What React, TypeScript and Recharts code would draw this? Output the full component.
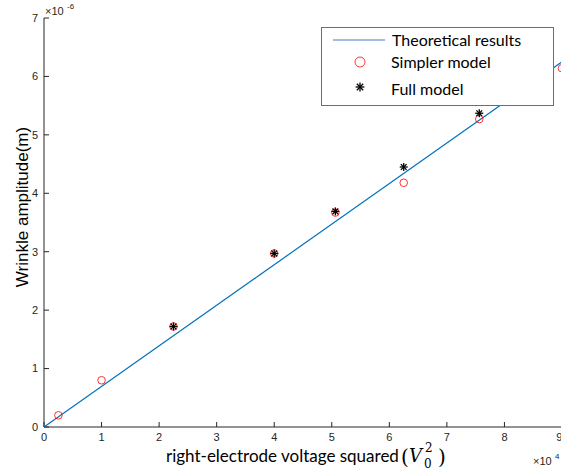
import { Scatter, ScatterChart, XAxis, YAxis } from "recharts";

// x: right-electrode voltage squared, in units of 1e4 V^2
// y: wrinkle amplitude, in units of 1e-6 m
const simplerX = [0.25, 1, 2.25, 4, 5.0625, 6.25, 7.5625, 9];
const simplerY = [0.2, 0.8, 1.72, 2.97, 3.67, 4.18, 5.27, 6.14];
const fullX = [2.25, 4, 5.0625, 6.25, 7.5625];
const fullY = [1.72, 2.97, 3.69, 4.45, 5.37];
const theoryX = [0, 9];
const theoryY = [0, 6.25];

const xTicks = [0, 1, 2, 3, 4, 5, 6, 7, 8, 9];
const yTicks = [0, 1, 2, 3, 4, 5, 6, 7];

const zip = (xs: number[], ys: number[]) => xs.map((x, i) => ({ x, y: ys[i] }));

const simplerData = zip(simplerX, simplerY);
const fullData = zip(fullX, fullY);
const theoryData = zip(theoryX, theoryY);

const AXIS = "#262626";
const LINE_BLUE = "#0072BD";
const tickStyle = { fill: AXIS, fontSize: 11, fontFamily: "Liberation Sans, Arial, sans-serif" };

function RedCircle(props: any) {
  const { cx, cy, r = 3.8 } = props;
  return <circle cx={cx} cy={cy} r={r} fill="none" stroke="#FF0000" strokeWidth={0.8} />;
}

function Asterisk(props: any) {
  const { cx, cy, s = 4 } = props;
  const d = s * 0.72;
  return (
    <g stroke="#000" strokeWidth={1.3}>
      <line x1={cx - s} y1={cy} x2={cx + s} y2={cy} />
      <line x1={cx} y1={cy - s} x2={cx} y2={cy + s} />
      <line x1={cx - d} y1={cy - d} x2={cx + d} y2={cy + d} />
      <line x1={cx - d} y1={cy + d} x2={cx + d} y2={cy - d} />
    </g>
  );
}

function NoDot() {
  return <g />;
}

function LegendBox() {
  const font = "Lato, 'Open Sans', sans-serif";
  return (
    <g>
      <rect x={321.5} y={27.5} width={232} height={78} fill="#fff" stroke="#4472C4" strokeWidth={1} />
      <line x1={333} y1={40} x2={385} y2={40} stroke="#4A7CC4" strokeWidth={1.2} />
      <text x={392} y={46} fontSize={16} fontFamily={font} fill="#000">Theoretical results</text>
      <RedCircle cx={360} cy={62} r={5} />
      <text x={391} y={68} fontSize={16} fontFamily={font} fill="#000">Simpler model</text>
      <Asterisk cx={360} cy={87} s={4.4} />
      <text x={391} y={95} fontSize={16} fontFamily={font} fill="#000">Full model</text>
    </g>
  );
}

function Annotations() {
  const sans = "Liberation Sans, Arial, sans-serif";
  const serif = "'DejaVu Serif', 'Liberation Serif', serif";
  return (
    <svg width={561} height={473} style={{ position: "absolute", left: 0, top: 0, pointerEvents: "none" }}>
      {/* exponent multipliers */}
      <text x={45} y={15} fontSize={11} fontFamily={sans} fill={AXIS}>
        ×10
      </text>
      <text x={67} y={9} fontSize={8} fontFamily={sans} fill={AXIS}>
        -6
      </text>
      <text x={533} y={465} fontSize={11} fontFamily={sans} fill={AXIS}>
        ×10
      </text>
      <text x={555} y={459} fontSize={8} fontFamily={sans} fill={AXIS}>
        4
      </text>

      {/* y axis title */}
      <text
        x={28}
        y={207}
        transform="rotate(-90 28 207)"
        textAnchor="middle"
        fontSize={17}
        fontFamily={sans}
        fill="#000"
      >
        {"Wrinkle amplitude(m)"}
      </text>

      {/* x axis title with V_0^2 */}
      <text x={166} y={462} fontSize={17} fontFamily="Lato, sans-serif" fill="#000">
        right-electrode voltage squared
      </text>
      <text x={401} y={464} fontSize={20} fontFamily={serif} fill="#000">(</text>
      <text x={409} y={462} fontSize={18} fontFamily={serif} fontStyle="italic" fill="#000">V</text>
      <text x={424} y={468} fontSize={12} fontFamily={serif} fill="#000">0</text>
      <text x={425} y={452} fontSize={12} fontFamily={serif} fill="#000">2</text>
      <text x={438} y={464} fontSize={20} fontFamily={serif} fill="#000">)</text>

      <LegendBox />
    </svg>
  );
}

export default function App() {
  return (
    <div style={{ position: "absolute", left: 0, top: 0, width: 561, height: 473, overflow: "hidden", background: "#fff" }}>
      <ScatterChart width={562} height={473} margin={{ top: 18, right: 0, bottom: 0, left: 0 }}>
        <XAxis
          xAxisId="bottom"
          dataKey="x"
          type="number"
          domain={[0, 9]}
          ticks={xTicks}
          height={46}
          stroke={AXIS}
          tick={tickStyle}
          tickSize={-5}
          tickMargin={11}
          allowDataOverflow
        />
        <XAxis
          xAxisId="top"
          orientation="top"
          type="number"
          domain={[0, 9]}
          ticks={xTicks}
          height={0}
          stroke={AXIS}
          tickSize={-5}
          tickFormatter={() => ""}
        />
        <YAxis
          yAxisId="left"
          dataKey="y"
          type="number"
          domain={[0, 7]}
          ticks={yTicks}
          width={44}
          stroke={AXIS}
          tick={tickStyle}
          tickSize={-5}
          tickMargin={11}
          allowDataOverflow
        />
        <YAxis
          yAxisId="right"
          orientation="right"
          type="number"
          domain={[0, 7]}
          ticks={yTicks}
          width={0}
          stroke={AXIS}
          tickSize={-5}
          tickFormatter={() => ""}
        />
        <Scatter
          name="Theoretical results"
          data={theoryData}
          xAxisId="bottom"
          yAxisId="left"
          line={{ stroke: LINE_BLUE, strokeWidth: 1.2 }}
          lineJointType="linear"
          shape={NoDot}
          isAnimationActive={false}
        />
        <Scatter
          name="Simpler model"
          data={simplerData}
          xAxisId="bottom"
          yAxisId="left"
          shape={RedCircle}
          isAnimationActive={false}
        />
        <Scatter
          name="Full model"
          data={fullData}
          xAxisId="bottom"
          yAxisId="left"
          shape={Asterisk}
          isAnimationActive={false}
        />
      </ScatterChart>
      <Annotations />
    </div>
  );
}
